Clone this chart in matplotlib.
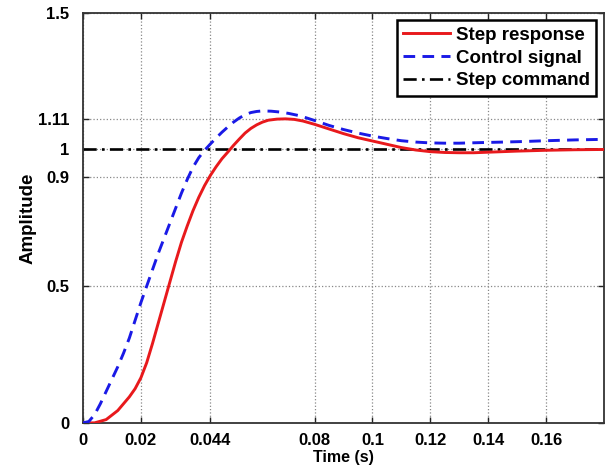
import numpy as np
import matplotlib
matplotlib.use("Agg")
import matplotlib.pyplot as plt

plt.rcParams['font.family'] = ['Liberation Sans', 'DejaVu Sans']
plt.rcParams['font.weight'] = 'bold'

# Step response (red, solid)
t_resp = [0, 0.004, 0.008, 0.012, 0.016, 0.018, 0.020, 0.022, 0.024, 0.026, 0.028,
          0.030, 0.032, 0.034, 0.036, 0.038, 0.040, 0.042, 0.044, 0.046, 0.048,
          0.050, 0.052, 0.054, 0.056, 0.058, 0.060, 0.062, 0.064, 0.067, 0.070,
          0.073, 0.076, 0.080, 0.085, 0.090, 0.095, 0.100, 0.105, 0.110, 0.115,
          0.120, 0.125, 0.130, 0.135, 0.140, 0.150, 0.160, 0.170, 0.180]
a_resp = [0, 0.0, 0.012, 0.045, 0.095, 0.125, 0.165, 0.22, 0.29, 0.365, 0.44,
          0.515, 0.59, 0.66, 0.72, 0.776, 0.825, 0.868, 0.905, 0.937, 0.966,
          0.99, 1.015, 1.038, 1.06, 1.077, 1.09, 1.1, 1.107, 1.111, 1.112,
          1.11, 1.104, 1.092, 1.075, 1.058, 1.043, 1.031, 1.019, 1.007, 0.998,
          0.992, 0.989, 0.988, 0.988, 0.99, 0.994, 0.997, 0.999, 1.0]

# Control signal (blue, dashed)
t_ctrl = [0, 0.002, 0.004, 0.006, 0.008, 0.010, 0.012, 0.014, 0.016, 0.018, 0.020,
          0.022, 0.024, 0.026, 0.028, 0.030, 0.032, 0.034, 0.036, 0.038, 0.040,
          0.042, 0.044, 0.046, 0.048, 0.050, 0.052, 0.054, 0.056, 0.058, 0.060,
          0.062, 0.065, 0.068, 0.071, 0.075, 0.080, 0.085, 0.090, 0.095, 0.100,
          0.105, 0.110, 0.115, 0.120, 0.125, 0.130, 0.137, 0.145, 0.152, 0.160,
          0.170, 0.180]
a_ctrl = [0, 0.005, 0.03, 0.07, 0.115, 0.16, 0.205, 0.255, 0.31, 0.375, 0.44,
          0.5, 0.56, 0.62, 0.675, 0.73, 0.785, 0.84, 0.89, 0.935, 0.97,
          0.997, 1.02, 1.042, 1.063, 1.082, 1.1, 1.115, 1.127, 1.135, 1.139,
          1.141, 1.14, 1.137, 1.132, 1.123, 1.106, 1.088, 1.073, 1.06, 1.049,
          1.04, 1.032, 1.027, 1.024, 1.023, 1.023, 1.025, 1.027, 1.029, 1.032,
          1.035, 1.037]

# Step command (black, dash-dot)
t_cmd = [0, 0.18]
a_cmd = [1, 1]

x_ticks = [0, 0.02, 0.044, 0.08, 0.1, 0.12, 0.14, 0.16]
x_labels = ['0', '0.02', '0.044', '0.08', '0.1', '0.12', '0.14', '0.16']
y_ticks = [0, 0.5, 0.9, 1, 1.11, 1.5]
y_labels = ['0', '0.5', '0.9', '1', '1.11', '1.5']

fig = plt.figure(figsize=(6.15, 4.73), dpi=100)
ax = fig.add_axes([0.135, 0.106, 0.847, 0.867])

ax.plot(t_resp, a_resp, color='#e8191c', lw=2.1, label='Step response', zorder=3)
ax.plot(t_ctrl, a_ctrl, color='#1a1ae6', lw=2.1, ls=(0, (4, 2.5)), label='Control signal', zorder=3)
ax.plot(t_cmd, a_cmd, color='black', lw=1.9, ls=(0, (5, 2, 1, 2)), label='Step command', zorder=2)

ax.set_xlim(0, 0.18)
ax.set_ylim(0, 1.5)
ax.set_xticks(x_ticks)
ax.set_xticklabels(x_labels)
ax.set_yticks(y_ticks)
ax.set_yticklabels(y_labels)
ax.tick_params(direction='in', length=4, width=1, top=True, right=True,
               labelsize=12, colors='#222222')
ax.tick_params(axis='x', pad=7)
ax.tick_params(axis='y', pad=10)
for lab in ax.get_xticklabels() + ax.get_yticklabels():
    lab.set_color('black')

ax.grid(True, ls=':', color='#888888', lw=0.9)
for s in ax.spines.values():
    s.set_linewidth(1.3)
    s.set_color('#333333')

ax.set_xlabel('Time (s)', fontsize=11.5, fontweight='bold', labelpad=2)
ax.set_ylabel('Amplitude', fontsize=13.5, fontweight='bold', labelpad=1)

leg = ax.legend(loc='upper right', fontsize=13.5, handlelength=2.5, handletextpad=0.3,
                labelspacing=0.3, borderpad=0.35, borderaxespad=0.4,
                fancybox=False, framealpha=1)
leg.get_frame().set_edgecolor('black')
leg.get_frame().set_linewidth(1.8)

fig.savefig('out.png', dpi=100)
